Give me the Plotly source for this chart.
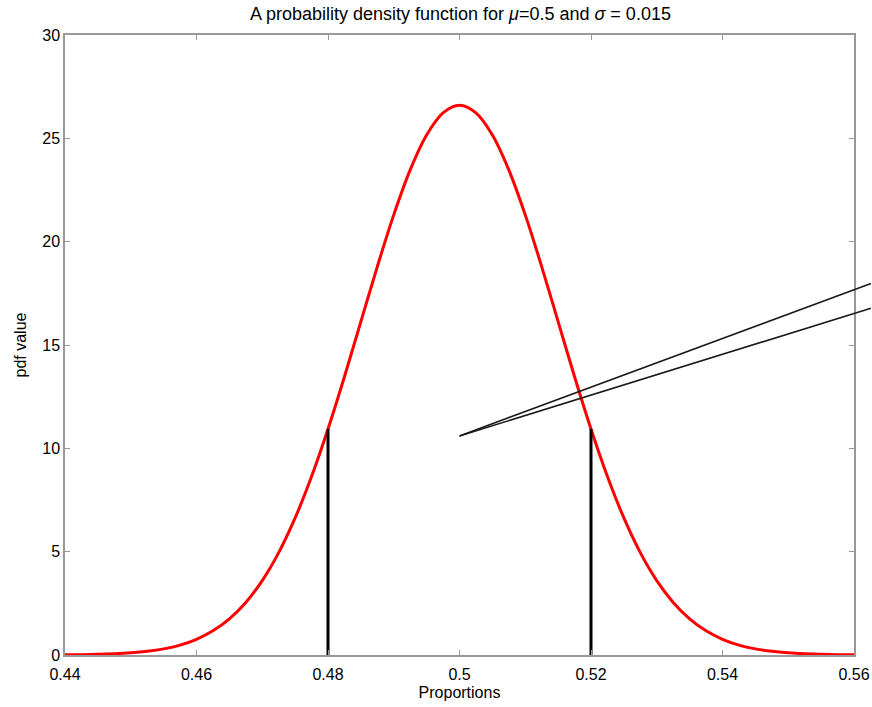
import plotly.graph_objects as go

# Values (pdf curve, step 0.0025)
proportions = [0.44 + 0.0025 * i for i in range(49)]
pdf_values = [0.009, 0.017, 0.032, 0.058, 0.103, 0.177, 0.296, 0.480, 0.760,
              1.169, 1.748, 2.544, 3.599, 4.953, 6.632, 8.634, 10.934, 13.466,
              16.131, 18.794, 21.296, 23.471, 25.159, 26.229, 26.596,
              26.229, 25.159, 23.471, 21.296, 18.794, 16.131, 13.466, 10.934,
              8.634, 6.632, 4.953, 3.599, 2.544, 1.748, 1.169, 0.760, 0.480,
              0.296, 0.177, 0.103, 0.058, 0.032, 0.017, 0.009]

bound_x = [0.48, 0.52]
bound_y = [10.93, 10.93]

pointer_start = (0.5, 10.6)
pointer_ends = [(0.5628, 18.0), (0.5628, 16.8)]

x_ticks = [0.44, 0.46, 0.48, 0.5, 0.52, 0.54, 0.56]
x_tick_text = ["0.44", "0.46", "0.48", "0.5", "0.52", "0.54", "0.56"]
y_ticks = [0, 5, 10, 15, 20, 25, 30]

fig = go.Figure()
fig.add_trace(go.Scatter(x=proportions, y=pdf_values, mode="lines",
                         line=dict(color="#ff0000", width=3, shape="spline"),
                         hoverinfo="skip", showlegend=False))
for bx, by in zip(bound_x, bound_y):
    fig.add_trace(go.Scatter(x=[bx, bx], y=[0, by], mode="lines",
                             line=dict(color="#000000", width=3),
                             showlegend=False, hoverinfo="skip"))

for ex, ey in pointer_ends:
    fig.add_annotation(x=pointer_start[0], y=pointer_start[1],
                       ax=ex, ay=ey, axref="x", ayref="y", xref="x", yref="y",
                       text="", showarrow=True, arrowhead=0, arrowwidth=1.6,
                       arrowcolor="#1a1a1a", standoff=0, startstandoff=0)

font = "Liberation Sans, Arial, sans-serif"
axis_common = dict(showline=True, linecolor="#999999", linewidth=1.5,
                   mirror="ticks", ticks="inside", ticklen=5,
                   tickcolor="#999999", tickwidth=1, showgrid=False,
                   zeroline=False, automargin=False,
                   tickfont=dict(family=font, size=16, color="#000000"))

fig.update_layout(
    width=872, height=707,
    margin=dict(l=65, r=18, t=35, b=52),
    paper_bgcolor="white", plot_bgcolor="white",
    title=dict(text="A probability density function for <i>μ</i>=0.5 and <i>σ</i> = 0.015",
               x=0.528, xanchor="center", y=1 - 14 / 707, yanchor="middle",
               yref="container",
               font=dict(family=font, size=18, color="#000000")),
    xaxis=dict(range=[0.44, 0.56], tickvals=x_ticks, ticktext=x_tick_text,
               ticklabelstandoff=4,
               title=dict(text="Proportions", standoff=5,
                          font=dict(family=font, size=16, color="#000000")),
               **axis_common),
    yaxis=dict(range=[0, 30], tickvals=y_ticks,
               title=dict(text="pdf value", standoff=12,
                          font=dict(family=font, size=16, color="#000000")),
               **axis_common),
)

fig.write_html("out.html")
